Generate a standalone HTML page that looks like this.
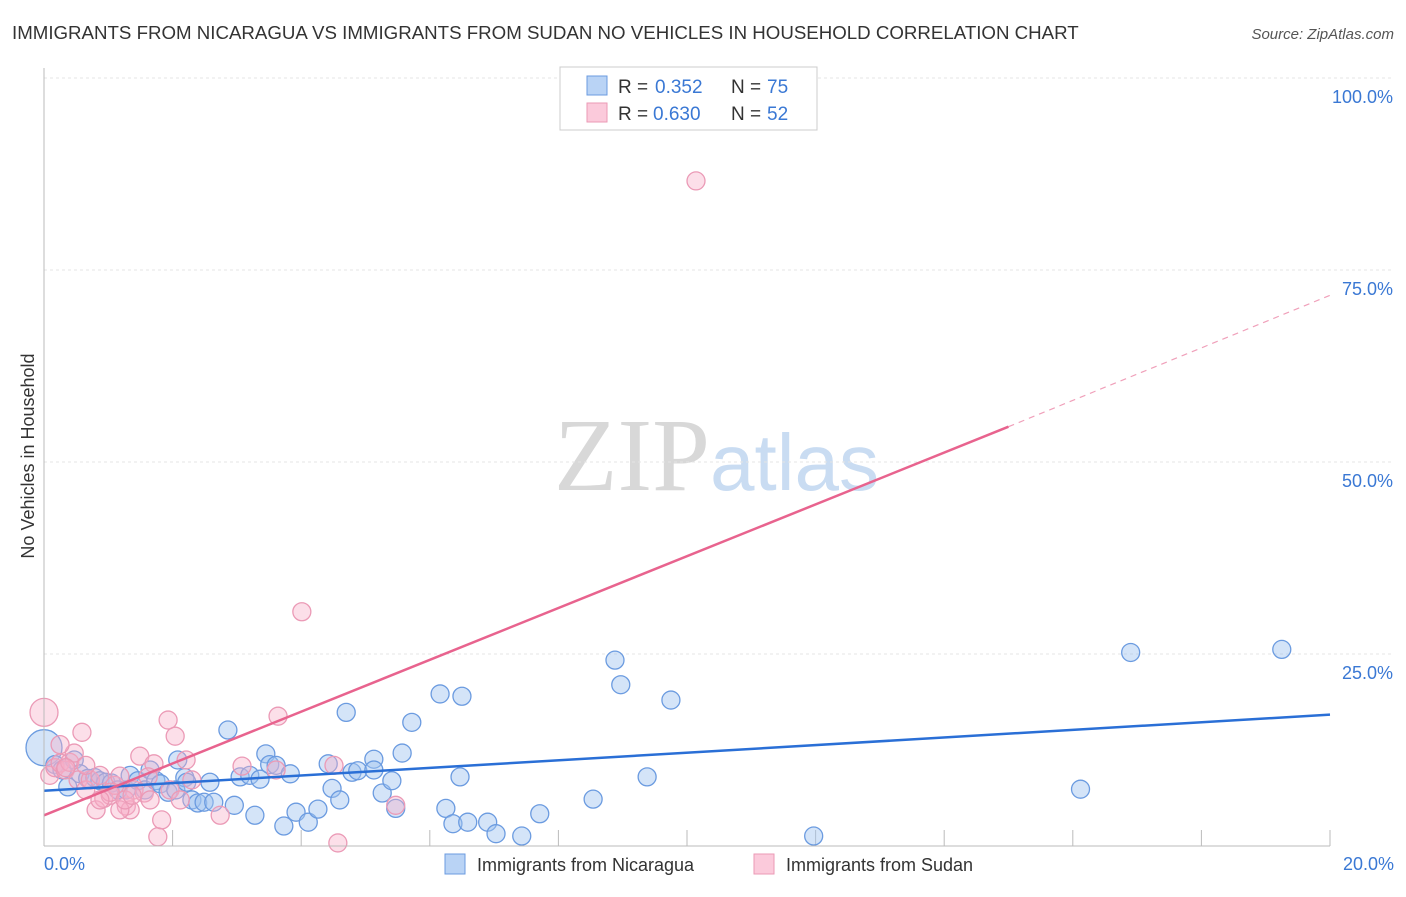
<!DOCTYPE html>
<html><head><meta charset="utf-8"><style>
body{margin:0;background:#fff;font-family:"Liberation Sans",sans-serif}
</style></head><body>
<svg id="chart" width="1406" height="892" viewBox="0 0 1406 892" xmlns="http://www.w3.org/2000/svg">
<text x="12" y="39" font-size="18.7" fill="#333">IMMIGRANTS FROM NICARAGUA VS IMMIGRANTS FROM SUDAN NO VEHICLES IN HOUSEHOLD CORRELATION CHART</text>
<text x="1394" y="39" font-size="15" fill="#555" text-anchor="end" font-style="italic">Source: ZipAtlas.com</text>
<text x="34" y="456" font-size="18" fill="#333" text-anchor="middle" transform="rotate(-90 34 456)">No Vehicles in Household</text>
<text x="554" y="490" font-size="104" fill="#d8d8d8" font-family="Liberation Serif,serif">ZIP<tspan fill="#c9dcf2" font-family="Liberation Sans,sans-serif" font-size="80">atlas</tspan></text>
<g id="grid"></g><g id="ticks"></g><g id="pts"></g><g id="trend"></g>
<line x1="44" y1="68" x2="44" y2="846" stroke="#bbb"/>
<line x1="44" y1="846" x2="1330" y2="846" stroke="#bbb"/>
<text x="44" y="870" font-size="18" fill="#3a78d4">0.0%</text>
<text x="1394" y="870" font-size="18" fill="#3a78d4" text-anchor="end">20.0%</text>
<g>
<rect x="560" y="67" width="257" height="63" fill="#fff" stroke="#ccc"/>
<rect x="587" y="76" width="20" height="19" fill="#b9d3f5" stroke="#6b9be0"/>
<rect x="587" y="103" width="20" height="19" fill="#fbcadb" stroke="#eb9ab6"/>
<text x="618" y="93" font-size="19" fill="#333">R =</text>
<text x="655" y="93" font-size="19" fill="#3a78d4">0.352</text>
<text x="731" y="93" font-size="19" fill="#333">N =</text>
<text x="767" y="93" font-size="19" fill="#3a78d4">75</text>
<text x="618" y="120" font-size="19" fill="#333">R =</text>
<text x="653" y="120" font-size="19" fill="#3a78d4">0.630</text>
<text x="731" y="120" font-size="19" fill="#333">N =</text>
<text x="767" y="120" font-size="19" fill="#3a78d4">52</text>
</g>
<g>
<rect x="445" y="854" width="20" height="20" fill="#b9d3f5" stroke="#6b9be0"/>
<text x="477" y="871" font-size="18" fill="#333">Immigrants from Nicaragua</text>
<rect x="754" y="854" width="20" height="20" fill="#fbcadb" stroke="#eb9ab6"/>
<text x="786" y="871" font-size="18" fill="#333">Immigrants from Sudan</text>
</g>
</svg>
<script>
const yTicks=[25,50,75,100];
const yTickLabels=["25.0%","50.0%","75.0%","100.0%"];
const xTicks=[2,4,6,8,10,12,14,16,18,20];
const blueX=[0,0.17,0.28,0.37,0.47,0.56,0.68,0.79,0.87,0.96,1.05,1.15,1.28,1.34,1.46,1.57,1.65,1.74,1.81,1.93,2.05,2.19,2.08,2.22,2.30,2.39,2.49,2.58,2.64,2.86,2.96,3.05,3.20,3.28,3.36,3.45,3.51,3.61,3.73,3.83,3.92,4.11,4.26,4.42,4.48,4.60,4.70,4.79,4.88,5.13,5.13,5.26,5.41,5.47,5.57,5.72,6.16,6.25,6.36,6.50,6.47,6.59,6.90,7.03,7.43,7.71,8.54,8.88,8.97,9.38,9.75,11.97,16.12,16.90,19.25];
const blueY=[12.8,10.6,9.9,7.7,11.2,9.4,8.8,8.9,8.5,8.3,8.2,7.3,7.3,9.2,8.5,7.3,9.9,8.5,8.1,7.0,7.3,8.9,11.2,8.3,6.0,5.6,5.7,8.3,5.7,15.1,5.3,9.0,9.2,4.0,8.7,12.0,10.6,10.5,2.6,9.4,4.4,3.1,4.8,10.7,7.5,6.0,17.4,9.6,9.8,11.3,9.9,6.9,8.5,4.9,12.1,16.1,19.8,4.9,2.9,19.5,9.0,3.1,3.1,1.6,1.3,4.2,6.1,24.2,21.0,9.0,19.0,1.3,7.4,25.2,25.6];
const blueR=[18,9,9,9,9,9,9,9,9,9,9,9,9,9,9,9,9,9,9,9,9,9,9,9,9,9,9,9,9,9,9,9,9,9,9,9,9,9,9,9,9,9,9,9,9,9,9,9,9,9,9,9,9,9,9,9,9,9,9,9,9,9,9,9,9,9,9,9,9,9,9,9,9,9,9];
const pinkX=[0,0.09,0.17,0.25,0.33,0.40,0.47,0.53,0.59,0.65,0.72,0.81,0.87,0.93,1.03,1.10,1.18,1.28,1.34,1.40,1.49,1.56,1.65,1.71,1.77,1.83,1.93,1.96,2.04,2.12,2.21,2.30,2.74,3.08,3.64,3.61,4.51,4.57,5.47,4.01,10.14,0.25,1.03,1.18,1.26,1.62,0.65,0.34,1.37,0.87];
const pinkY=[17.4,9.2,10.2,10.8,9.9,10.9,12.1,8.6,14.8,7.3,8.6,4.7,9.2,6.2,6.6,7.9,9.1,5.2,4.7,7.3,11.7,6.9,6.0,10.7,1.2,3.4,16.4,7.3,14.3,6.0,11.2,8.6,4.0,10.4,16.9,9.9,10.5,0.4,5.3,30.5,86.6,13.2,7.0,4.7,6.0,9.0,10.5,10.2,6.6,6.0];
const pinkR=[14,9,9,9,9,9,9,9,9,9,9,9,9,9,9,9,9,9,9,9,9,9,9,9,9,9,9,9,9,9,9,9,9,9,9,9,9,9,9,9,9,9,9,9,9,9,9,9,9,9];
const blueTrend=[[0,7.2],[20,17.1]];
const pinkTrend=[[0,4.0],[15,54.6]];
const pinkDash=[[15,54.6],[20,71.7]];
const NS="http://www.w3.org/2000/svg";
const X0=44,X1=1330,Y0=846,Y100=78;
const sx=v=>X0+(X1-X0)*v/20;
const sy=v=>Y0-(Y0-Y100)*v/100;
function mk(tag,attrs,parent){const e=document.createElementNS(NS,tag);for(const k in attrs)e.setAttribute(k,attrs[k]);document.getElementById(parent).appendChild(e);return e;}
yTicks.forEach((t,i)=>{
 const l=mk('line',{x1:X0,x2:1394,y1:sy(t),y2:sy(t),stroke:'#e4e4e4','stroke-width':1,'stroke-dasharray':'3,3'},'grid');
 
 
 const tx=mk('text',{x:1393,y:sy(t)+25,'font-size':18,fill:'#3a78d4','text-anchor':'end'},'grid');
 tx.textContent=yTickLabels[i];
 
 
});
xTicks.forEach(t=>{
 const l=mk('line',{x1:sx(t),x2:sx(t),y1:Y0-16,y2:Y0,stroke:'#bbb'},'ticks');
 
 
});
blueX.forEach((v,i)=>{
 const c=mk('circle',{cx:sx(v),cy:sy(blueY[i]),r:blueR[i],fill:'rgba(160,196,240,0.45)',stroke:'#6b9be0','stroke-width':1.3},'pts');
 
 
});
pinkX.forEach((v,i)=>{
 const c=mk('circle',{cx:sx(v),cy:sy(pinkY[i]),r:pinkR[i],fill:'rgba(247,175,200,0.4)',stroke:'#eb9ab6','stroke-width':1.3},'pts');
 
 
});
const bt=mk('line',{x1:sx(blueTrend[0][0]),y1:sy(blueTrend[0][1]),x2:sx(blueTrend[1][0]),y2:sy(blueTrend[1][1]),stroke:'#2a6fd6','stroke-width':2.5},'trend');


const pt=mk('line',{x1:sx(pinkTrend[0][0]),y1:sy(pinkTrend[0][1]),x2:sx(pinkTrend[1][0]),y2:sy(pinkTrend[1][1]),stroke:'#e8638e','stroke-width':2.5},'trend');


const pd=mk('line',{x1:sx(pinkDash[0][0]),y1:sy(pinkDash[0][1]),x2:sx(pinkDash[1][0]),y2:sy(pinkDash[1][1]),stroke:'#f0a0ba','stroke-width':1.2,'stroke-dasharray':'6,5'},'trend');


</script>
</body></html>
